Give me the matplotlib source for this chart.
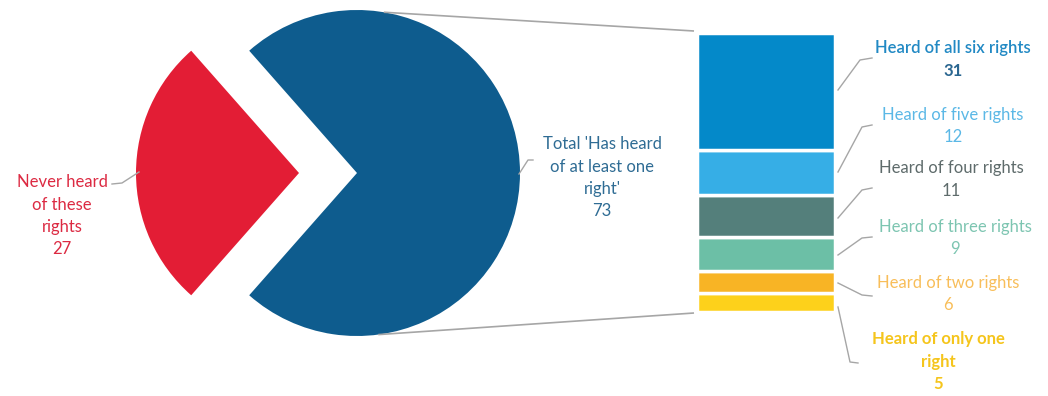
import numpy as np
import matplotlib.pyplot as plt

plt.rcParams['font.family'] = ['Lato', 'DejaVu Sans']

# Pie data: never heard vs. heard of at least one right
pie_labels = ["Never heard\nof these\nrights", "Total 'Has heard\nof at least one\nright'"]
pie_values = [27, 73]
pie_colors = ['#E31D35', '#0E5C8E']
pie_text_colors = ['#DC2A42', '#2F6C94']

# Bar breakdown of the 73 (bottom to top)
bar_labels = ["Heard of only one\nright", "Heard of two rights", "Heard of three rights",
              "Heard of four rights", "Heard of five rights", "Heard of all six rights"]
bar_values = [5, 6, 9, 11, 12, 31]
bar_colors = ['#FDD11B', '#F8B425', '#6CBFA6', '#547F7B', '#36AEE6', '#0489C9']
bar_text_colors = ['#F5C51C', '#F8BE5A', '#7DC5B1', '#5E6B6B', '#5BB8E6', '#2189C4']
bar_num_colors = ['#F5C51C', '#F8BE5A', '#7DC5B1', '#5E6B6B', '#5BB8E6', '#2A6690']

W, H = 1048, 396
fig = plt.figure(figsize=(W / 100, H / 100), dpi=100)
ax = fig.add_axes([0, 0, 1, 1])

# pie, in pixel-like coordinates (y measured from the bottom)
cx, cy, r = 357, H - 173, 163
red_share = pie_values[0] / sum(pie_values) * 360
ax.pie(pie_values, colors=pie_colors, startangle=180 - red_share / 2,
       explode=[58, 0], center=(cx, cy), radius=r, frame=True,
       wedgeprops=dict(linewidth=0))
ax.set_xlim(0, W)
ax.set_ylim(0, H)
ax.set_aspect('equal')
ax.axis('off')

# stacked bar in its own axes
bl, br, bt, bb = 697, 835, 33, 312
bax = fig.add_axes([bl / W, (H - bb) / H, (br - bl) / W, (bb - bt) / H])
bottoms = np.concatenate([[0], np.cumsum(bar_values)[:-1]])
bax.bar(0, bar_values, bottom=bottoms, width=1, color=bar_colors,
        edgecolor='white', linewidth=2.5)
bax.set_xlim(-0.5, 0.5)
bax.set_ylim(0, sum(bar_values))
bax.axis('off')

# connector lines from pie to bar
for ang, by in [(80.5, H - bt + 2), (-82.5, H - bb - 1)]:
    px = cx + r * np.cos(np.radians(ang))
    py = cy + r * np.sin(np.radians(ang))
    ax.plot([px, bl - 3], [py, by], color='#A6A6A6', lw=1.2, solid_capstyle='butt')

fs = 12
step = 22.5


def block(x, y, lines, colors, weights):
    # one text per line so the spacing matches the original
    for i, (s, c, w) in enumerate(zip(lines, colors, weights)):
        ax.text(x, H - y - i * step, s, ha='center', va='center', color=c,
                fontsize=fs, fontweight=w)


# pie labels
lines = pie_labels[0].split('\n') + [str(pie_values[0])]
block(62, 182, lines, [pie_text_colors[0]] * 4, ['normal'] * 4)
ax.plot([112, 122, 139], [H - 184, H - 183, H - 172], color='#A6A6A6', lw=1)
lines = pie_labels[1].split('\n') + [str(pie_values[1])]
block(602, 144, lines, [pie_text_colors[1]] * 4, ['normal'] * 4)
ax.plot([519, 528, 533], [H - 174, H - 160, H - 160], color='#A6A6A6', lw=1)

# bar labels: (center x, first line y, leader points) in pixels from top
label_pos = [
    (938, 339, [(838, 307), (850, 362), (858, 363)]),
    (948, 283, [(838, 283), (862, 295), (872, 296)]),
    (955, 227, [(838, 255), (862, 238), (872, 237)]),
    (951, 168, [(838, 218), (862, 190), (872, 188)]),
    (953, 115, [(838, 172), (862, 127), (872, 125)]),
    (953, 48, [(838, 90), (860, 60), (872, 58)]),
]
for lab, val, tc, nc, (x, y, pts) in zip(bar_labels, bar_values, bar_text_colors,
                                         bar_num_colors, label_pos):
    lines = lab.split('\n') + [str(val)]
    cols = [tc] * (len(lines) - 1) + [nc]
    if lab.startswith('Heard of only'):
        wts = ['bold'] * len(lines)
    elif lab.endswith('six rights'):
        wts = ['semibold'] * (len(lines) - 1) + ['bold']
    else:
        wts = ['normal'] * len(lines)
    block(x, y, lines, cols, wts)
    ax.plot([p[0] for p in pts], [H - p[1] for p in pts], color='#A6A6A6', lw=1)

fig.savefig('out.png', dpi=100)
